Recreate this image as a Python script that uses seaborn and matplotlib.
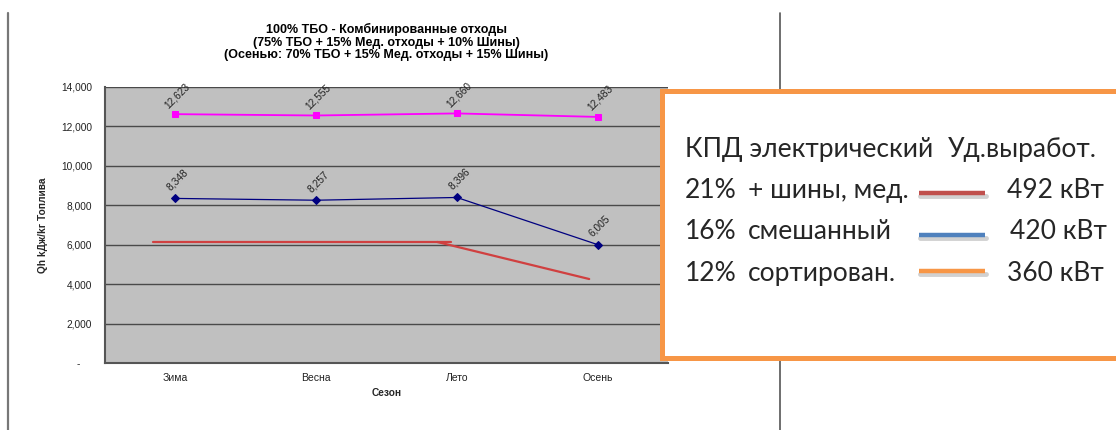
import numpy as np
import pandas as pd
import matplotlib
matplotlib.use("Agg")
import matplotlib.pyplot as plt
from matplotlib.patches import Rectangle
from matplotlib.lines import Line2D
from matplotlib.ticker import FuncFormatter, MultipleLocator, FixedLocator
import seaborn as sns

# data
seasons = ["Зима", "Весна", "Лето", "Осень"]
combined = [12623, 12555, 12660, 12483]     # pink series
mixed = [8348, 8257, 8396, 6005]            # navy series
# red hand-drawn line (two strokes), x in category units
red_x1 = [-0.16, 1.96]
red_y1 = [6140, 6140]
red_x2 = [1.86, 2.94]
red_y2 = [6140, 4260]

legend_pct = ["21%", "16%", "12%"]
legend_names = ["+ шины, мед.", "смешанный", "сортирован."]
legend_power = ["492 кВт", "420 кВт", "360 кВт"]
legend_colors = ["#C0504D", "#4F81BD", "#F79646"]

sns.set_style("white")
plt.rcParams["font.family"] = ["Liberation Sans", "DejaVu Sans"]

W, H = 1116, 430
fig = plt.figure(figsize=(W / 100, H / 100), dpi=100)


def fx(px):
    return px / W


def fy(py):
    return 1 - py / H


ax = fig.add_axes([fx(105), fy(363), fx(668) - fx(105), fy(87) - fy(363)])
ax.set_facecolor("#C0C0C0")

pos = np.arange(len(seasons))
df = pd.DataFrame({"pos": pos, "combined": combined, "mixed": mixed})

sns.lineplot(data=df, x="pos", y="combined", ax=ax, color="#FF00FF", lw=1.3,
             marker="s", markersize=5, markeredgecolor="#FF00FF", zorder=4)
sns.lineplot(data=df, x="pos", y="mixed", ax=ax, color="#000080", lw=0.9,
             marker="D", markersize=3.8, markeredgecolor="#000080", zorder=4)
ax.plot(red_x1, red_y1, color="#D04040", lw=1.6, zorder=3)
ax.plot(red_x2, red_y2, color="#D04040", lw=1.6, zorder=3)

for series in (combined, mixed):
    for p, v in zip(pos, series):
        ax.annotate(f"{v:,}", (p, v), xytext=(1.5, 13.5), textcoords="offset points",
                    ha="center", va="center", rotation=45, fontsize=7.3, color="#222222")

ax.set_xlim(-0.5, len(seasons) - 0.5)
ax.set_ylim(0, 14000)
ax.yaxis.set_major_locator(MultipleLocator(2000))
ax.yaxis.set_major_formatter(FuncFormatter(lambda v, _: "-    " if v == 0 else f"{v:,.0f}"))
ax.set_xticks(pos)
ax.set_xticklabels(seasons)
ax.xaxis.set_minor_locator(FixedLocator(np.arange(-0.5, len(seasons), 1.0)))
ax.tick_params(axis="x", which="major", length=0, pad=7, labelsize=7.5, colors="#222222")
ax.tick_params(axis="x", which="minor", length=4, width=1, color="#444444", direction="out")
ax.tick_params(axis="y", length=4, width=1, color="#444444", direction="out",
               labelsize=7.3, pad=5.5, labelcolor="#222222")
ax.grid(axis="y", color="#4a4a4a", lw=1)
ax.grid(axis="x", visible=False)
for s in ("top", "right"):
    ax.spines[s].set_visible(False)
for s in ("left", "bottom"):
    ax.spines[s].set_color("#555555")
    ax.spines[s].set_linewidth(1.5)

ax.set_xlabel("Сезон", fontsize=7.3, fontweight="bold", labelpad=4)
ax.set_ylabel("Qh kДж/kг Топлива", fontsize=7.3, fontweight="bold", labelpad=9)

fig.text(fx(386), fy(42),
         "100% ТБО - Комбинированные отходы\n(75% ТБО + 15% Мед. отходы + 10% Шины)\n"
         "(Осенью: 70% ТБО + 15% Мед. отходы + 15% Шины)",
         ha="center", va="center", fontsize=9, fontweight="bold", linespacing=1.05,
         color="black")

# page lines
fig.add_artist(Line2D([fx(8), fx(8)], [fy(13), fy(430)], color="#777777", lw=1.6))
fig.add_artist(Line2D([fx(780), fx(780)], [fy(13), fy(430)], color="#555555", lw=1.2))

# framed text box on the right
fig.add_artist(Rectangle((fx(662), fy(358)), fx(1130) - fx(662), fy(91) - fy(358),
                         transform=fig.transFigure, facecolor="white",
                         edgecolor="#F79646", lw=3.6, zorder=5))

box_font = ["Lato", "DejaVu Sans"]
fs = 19
fig.text(fx(685), fy(157), "КПД электрический", fontsize=fs, family=box_font,
         va="baseline", zorder=6)
fig.text(fx(948), fy(157), "Уд.выработ.", fontsize=fs, family=box_font, va="baseline", zorder=6)

baselines = [198, 239, 281]
line_y = [193, 235, 271]
power_x = [1007, 1010, 1007]
for i in range(3):
    fig.text(fx(685), fy(baselines[i]), legend_pct[i], fontsize=fs, family=box_font,
             va="baseline", zorder=6)
    fig.text(fx(748), fy(baselines[i]), legend_names[i], fontsize=fs, family=box_font,
             va="baseline", zorder=6)
    fig.text(fx(power_x[i]), fy(baselines[i]), legend_power[i], fontsize=fs, family=box_font,
             va="baseline", zorder=6)
    fig.add_artist(Line2D([fx(920), fx(986)], [fy(line_y[i] + 3), fy(line_y[i] + 3)],
                          color="#999999", lw=3.5, alpha=0.45, zorder=6))
    fig.add_artist(Line2D([fx(919), fx(985)], [fy(line_y[i]), fy(line_y[i])],
                          color=legend_colors[i], lw=3.2, zorder=7, solid_capstyle="butt"))

fig.savefig("out.png", dpi=100)
